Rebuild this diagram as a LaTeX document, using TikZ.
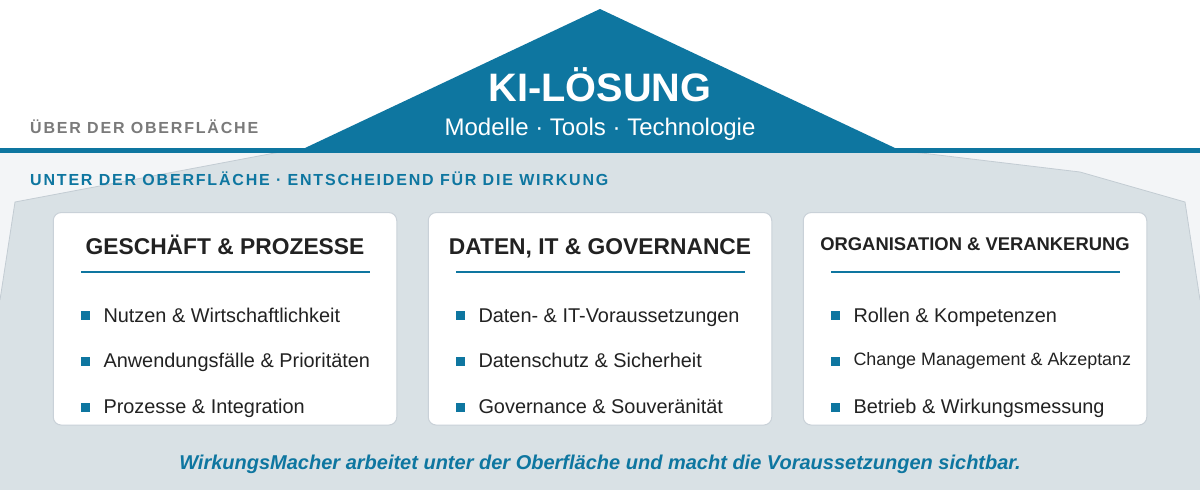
\documentclass[tikz,border=0pt]{standalone}
\usepackage{fontspec}
\setmainfont{Liberation Sans}
\newfontfamily\spacedfont[LetterSpace=11.3]{Liberation Sans}
\definecolor{kiblue}{HTML}{0E76A0}
\definecolor{bglight}{HTML}{F3F5F7}
\definecolor{ice}{HTML}{D9E1E5}
\definecolor{iceedge}{HTML}{C3CCD3}
\definecolor{boxedge}{HTML}{C9D1D8}
\definecolor{darktext}{HTML}{222222}
\definecolor{graylabel}{HTML}{7A7A7A}
\tikzset{
  panel/.style={draw=boxedge, fill=white, line width=1pt, rounded corners=8pt,
    minimum width=343.5pt, minimum height=212.5pt, inner sep=0pt},
  boxtitle/.style={anchor=base, inner sep=0pt, text=darktext,
    font=\bfseries\fontsize{22.8}{26}\selectfont},
  boxtitlesmall/.style={anchor=base, inner sep=0pt, text=darktext,
    font=\bfseries\fontsize{18.4}{22}\selectfont},
  item/.style={anchor=base west, inner sep=0pt, text=darktext,
    font=\fontsize{19.9}{23}\selectfont},
  itemsmall/.style={anchor=base west, inner sep=0pt, text=darktext,
    font=\fontsize{17.9}{21}\selectfont},
  bulletsq/.style={fill=kiblue},
  underline/.style={draw=kiblue, line width=2.4pt},
}
\begin{document}
\begin{tikzpicture}[x=1pt,y=-1pt]
\useasboundingbox (0,0) rectangle (1200,490);
\fill[white] (0,0) rectangle (1200,490);
\fill[bglight] (0,150) rectangle (1200,490);
% iceberg body
\fill[ice] (0,300) -- (15,202) -- (280,152) -- (913,152) -- (1080,172) -- (1185,202) -- (1200,300) -- (1200,490) -- (0,490) -- cycle;
\draw[iceedge, line width=0.8pt] (0,300) -- (15,202) -- (280,152);
\draw[iceedge, line width=0.8pt] (913,152) -- (1080,172) -- (1185,202) -- (1200,300);
% water line and tip
\fill[kiblue] (0,147.5) rectangle (1200,152.5);
\fill[kiblue] (305,148) -- (600,9) -- (895,148) -- cycle;
\node[anchor=base, inner sep=0pt, text=white, font=\bfseries\fontsize{39.7}{44}\selectfont] (kititle) at (600,101) {KI-LÖSUNG};
\node[anchor=base, inner sep=0pt, text=white, font=\fontsize{24}{28}\selectfont] (kisub) at (600,135) {Modelle · Tools · Technologie};
% labels
\node[anchor=base west, inner sep=0pt, text=graylabel, font=\spacedfont\bfseries\fontsize{16}{19}\selectfont] (above) at (30,133) {ÜBER DER OBERFLÄCHE};
\node[anchor=base west, inner sep=0pt, text=kiblue, font=\spacedfont\bfseries\fontsize{16}{19}\selectfont] (below) at (30,185) {UNTER DER OBERFLÄCHE · ENTSCHEIDEND FÜR DIE WIRKUNG};
% panels
\node[panel] (box1) at (225,318.8) {};
\node[panel] (box2) at (600,318.8) {};
\node[panel] (box3) at (975,318.8) {};
% panel 1
\node[boxtitle] (t1) at (225,254) {GESCHÄFT \& PROZESSE};
\draw[underline] (81,272) -- (370,272);
\fill[bulletsq] (81,311) rectangle (90,320);
\fill[bulletsq] (81,356.5) rectangle (90,365.5);
\fill[bulletsq] (81,402.5) rectangle (90,411.5);
\node[item] (a1) at (103.3,322) {Nutzen \& Wirtschaftlichkeit};
\node[item] (a2) at (103.3,367.3) {Anwendungsfälle \& Prioritäten};
\node[item] (a3) at (103.3,413) {Prozesse \& Integration};
% panel 2
\node[boxtitle] (t2) at (600,254) {DATEN, IT \& GOVERNANCE};
\draw[underline] (456,272) -- (745,272);
\fill[bulletsq] (456,311) rectangle (465,320);
\fill[bulletsq] (456,356.5) rectangle (465,365.5);
\fill[bulletsq] (456,402.5) rectangle (465,411.5);
\node[item] (b1) at (478.3,322) {Daten- \& IT-Voraussetzungen};
\node[item] (b2) at (478.3,367.3) {Datenschutz \& Sicherheit};
\node[item] (b3) at (478.3,413) {Governance \& Souveränität};
% panel 3
\node[boxtitlesmall] (t3) at (975,250.7) {ORGANISATION \& VERANKERUNG};
\draw[underline] (831,272) -- (1120,272);
\fill[bulletsq] (831,311) rectangle (840,320);
\fill[bulletsq] (831,356.5) rectangle (840,365.5);
\fill[bulletsq] (831,402.5) rectangle (840,411.5);
\node[item] (c1) at (853.3,322) {Rollen \& Kompetenzen};
\node[itemsmall] (c2) at (853.3,365.7) {Change Management \& Akzeptanz};
\node[item] (c3) at (853.3,413) {Betrieb \& Wirkungsmessung};
% claim
\node[anchor=base, inner sep=0pt, text=kiblue, font=\bfseries\itshape\fontsize{20}{24}\selectfont] (claim) at (600,469) {WirkungsMacher arbeitet unter der Oberfläche und macht die Voraussetzungen sichtbar.};
\end{tikzpicture}
\end{document}
